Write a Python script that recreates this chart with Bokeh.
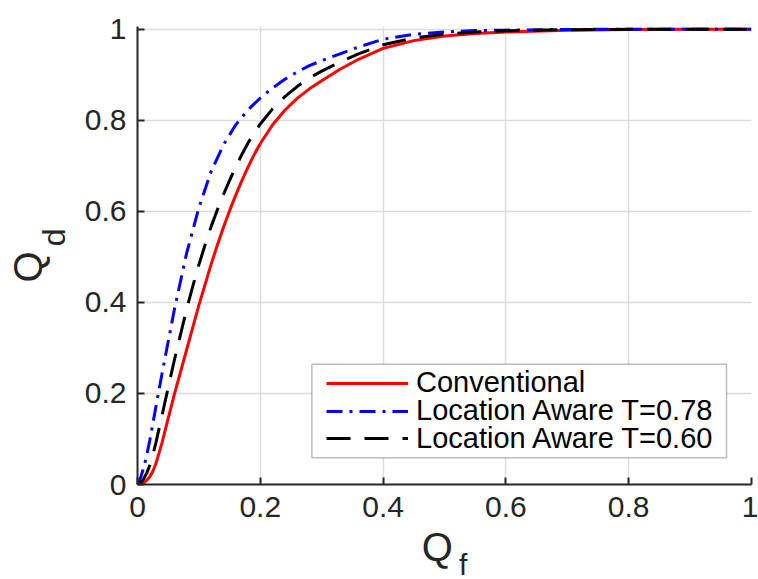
from bokeh.plotting import figure
from bokeh.models import (Range1d, FixedTicker, PrintfTickFormatter, Legend, LegendItem,
                          Label, BoxAnnotation)
from bokeh.embed import file_html
from bokeh.resources import INLINE

# False-alarm probability Q_f (shared abscissa for all curves)
qf = [0, 0.005, 0.01, 0.015, 0.02, 0.025, 0.03, 0.04, 0.05, 0.06, 0.07, 0.08, 0.09, 0.10,
      0.11, 0.12, 0.13, 0.14, 0.15, 0.16, 0.17, 0.18, 0.19, 0.20, 0.22, 0.24, 0.26, 0.28,
      0.30, 0.33, 0.36, 0.40, 0.45, 0.50, 0.55, 0.60, 0.70, 0.80, 0.90, 1.0]

# Detection probability Q_d for each scheme
qd_conventional = [0, 0.001, 0.004, 0.009, 0.017, 0.029, 0.046, 0.092, 0.145, 0.198, 0.247,
                   0.296, 0.345, 0.394, 0.439, 0.484, 0.5255, 0.565, 0.6015, 0.6355, 0.6675,
                   0.697, 0.7245, 0.749, 0.790, 0.822, 0.848, 0.869, 0.887, 0.912, 0.934, 0.958,
                   0.975, 0.985, 0.9905, 0.994, 0.998, 0.9995, 1.0, 1.0]
qd_aware_078 = [0, 0.015, 0.036, 0.064, 0.097, 0.134, 0.171, 0.244, 0.314, 0.384, 0.446,
                0.508, 0.558, 0.608, 0.648, 0.688, 0.717, 0.746, 0.768, 0.790, 0.8065,
                0.823, 0.836, 0.849, 0.871, 0.890, 0.906, 0.920, 0.931, 0.946, 0.961, 0.978,
                0.989, 0.994, 0.997, 0.998, 0.9995, 1.0, 1.0, 1.0]
qd_aware_060 = [0, 0.004, 0.012, 0.025, 0.042, 0.065, 0.092, 0.152, 0.213, 0.273, 0.329,
                0.385, 0.435, 0.483, 0.526, 0.567, 0.603, 0.637, 0.668, 0.698, 0.725,
                0.750, 0.772, 0.792, 0.825, 0.852, 0.874, 0.893, 0.908, 0.928, 0.946, 0.966,
                0.981, 0.989, 0.994, 0.9965, 0.999, 1.0, 1.0, 1.0]

series_labels = ["Conventional", "Location Aware T=0.78", "Location Aware T=0.60"]
ticks = [0, 0.2, 0.4, 0.6, 0.8, 1]

FONT = "Liberation Sans"
AX = "#262626"

p = figure(frame_width=614, frame_height=458,
           x_range=Range1d(0, 1), y_range=Range1d(0, 1.006),
           output_backend="svg", toolbar_location=None,
           min_border_left=137, min_border_right=7,
           min_border_top=26, min_border_bottom=95,
           background_fill_color="white", border_fill_color="white")
p.outline_line_color = None

for ax in (p.xaxis[0], p.yaxis[0]):
    ax.ticker = FixedTicker(ticks=ticks)
    ax.formatter = PrintfTickFormatter(format="%g")
    ax.axis_line_color = AX
    ax.axis_line_width = 2
    ax.major_tick_line_color = AX
    ax.major_tick_line_width = 2
    ax.major_tick_in = 7
    ax.major_tick_out = 0
    ax.minor_tick_line_color = None
    ax.major_label_text_font = FONT
    ax.major_label_text_font_size = "30px"
    ax.major_label_text_color = AX
p.xaxis.major_label_standoff = 12
p.yaxis.major_label_standoff = 11

for g in (p.xgrid[0], p.ygrid[0]):
    g.ticker = FixedTicker(ticks=ticks)
    g.grid_line_color = "#dcdcdc"
    g.grid_line_width = 1.5

r_conv = p.line(qf, qd_conventional, line_color="#ff0000", line_width=3,
                line_join="round")
r_078 = p.line(qf, qd_aware_078, line_color="#0000ff", line_width=3,
               line_dash="16 7 3 7")
r_060 = p.line(qf, qd_aware_060, line_color="#000000", line_width=3,
               line_dash="24 14")

# Legend: a framed white box holding three tightly stacked single-entry legends
p.add_layout(BoxAnnotation(left=0.284, right=0.9593, bottom=0.0589, top=0.2642,
                           fill_color="white", fill_alpha=1.0,
                           line_color=AX, line_width=1.5))

row_offsets = [85, 57, 29.5]
for label, renderer, row_y in zip(series_labels, [r_conv, r_078, r_060], row_offsets):
    lg = Legend(items=[LegendItem(label=label, renderers=[renderer])],
                location=(189, row_y))
    lg.label_text_font = FONT
    lg.label_text_font_size = "29px"
    lg.label_text_color = "#000000"
    lg.border_line_color = None
    lg.background_fill_alpha = 0.0
    lg.glyph_width = 82
    lg.glyph_height = 26
    lg.label_height = 26
    lg.label_standoff = 8
    lg.spacing = 0
    lg.padding = 0
    lg.margin = 0
    p.add_layout(lg)

# Axis titles with subscripts, placed in the side panels so they are not clipped
def title_part(x, y, text, size, angle=0.0):
    return Label(x=x, y=y, text=text, text_font=FONT, text_font_size=size,
                 text_color=AX, text_align="center", text_baseline="middle",
                 angle=angle)

p.add_layout(title_part(0.4882, -0.1374, "Q", "40px"), "below")
p.add_layout(title_part(0.5306, -0.1748, "f", "30px"), "below")
p.add_layout(title_part(-0.1777, 0.478, "Q", "40px", 1.5708), "left")
p.add_layout(title_part(-0.1358, 0.5429, "d", "32px", 1.5708), "left")

open("out.html", "w").write(file_html(p, INLINE))
